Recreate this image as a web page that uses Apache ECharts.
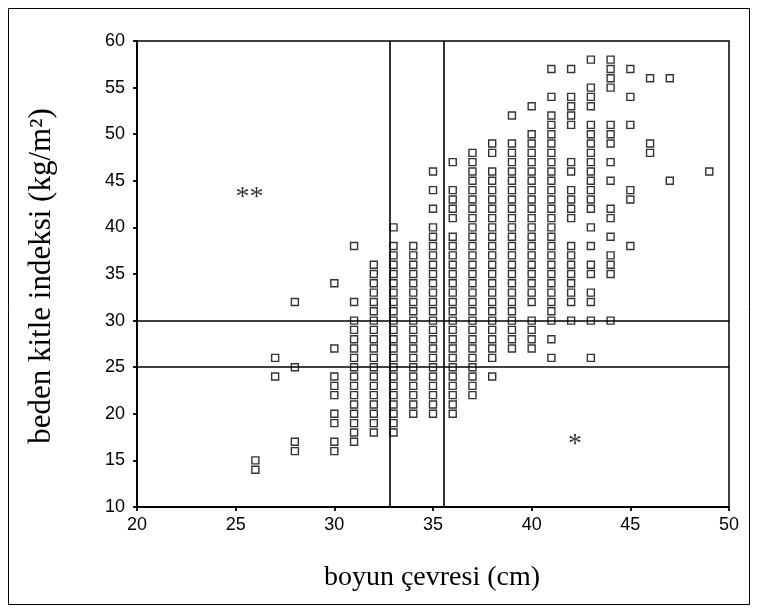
<!DOCTYPE html>
<html><head><meta charset="utf-8">
<script src="https://cdn.jsdelivr.net/npm/echarts@6/dist/echarts.min.js"></script>
<style>html,body{margin:0;padding:0;background:#fff}#c{width:758px;height:612px}</style>
</head><body><div id="c"></div>
<script>
// boyun çevresi (cm) columns and the BMI values read in each column
const neckCm = [26, 27, 28, 30, 31, 32, 33, 34, 35, 36, 37, 38, 39, 40, 41, 42, 43, 44, 45, 46, 47, 49];
const bmi26 = [15, 14];
const bmi27 = [26, 24];
const bmi28 = [32, 25, 17, 16];
const bmi30 = [34, 27, 24, 23, 22, 20, 19, 17, 16];
const bmi31 = [38, 32, 30, 29, 28, 27, 26, 25, 24, 23, 22, 21, 20, 19, 18, 17];
const bmi32 = [36, 35, 34, 33, 32, 31, 30, 29, 28, 27, 26, 25, 24, 23, 22, 21, 20, 19, 18];
const bmi33 = [40, 38, 37, 36, 35, 34, 33, 32, 31, 30, 29, 28, 27, 26, 25, 24, 23, 22, 21, 20, 19, 18];
const bmi34 = [38, 37, 36, 35, 34, 33, 32, 31, 30, 29, 28, 27, 26, 25, 24, 23, 22, 21, 20];
const bmi35 = [46, 44, 42, 40, 39, 38, 37, 36, 35, 34, 33, 32, 31, 30, 29, 28, 27, 26, 25, 24, 23, 22, 21, 20];
const bmi36 = [47, 44, 43, 42, 41, 39, 38, 37, 36, 35, 34, 33, 32, 31, 30, 29, 28, 27, 26, 25, 24, 23, 22, 21, 20];
const bmi37 = [48, 47, 46, 45, 44, 43, 42, 41, 40, 39, 38, 37, 36, 35, 34, 33, 32, 31, 30, 29, 28, 27, 26, 25, 24, 23, 22];
const bmi38 = [49, 48, 46, 45, 44, 43, 42, 41, 40, 39, 38, 37, 36, 35, 34, 33, 32, 31, 30, 29, 28, 27, 26, 24];
const bmi39 = [52, 49, 48, 47, 46, 45, 44, 43, 42, 41, 40, 39, 38, 37, 36, 35, 34, 33, 32, 31, 30, 29, 28, 27];
const bmi40 = [53, 50, 49, 48, 47, 46, 45, 44, 43, 42, 41, 40, 39, 38, 37, 36, 35, 34, 33, 32, 30, 29, 28, 27];
const bmi41 = [57, 54, 52, 51, 50, 49, 48, 47, 46, 45, 44, 43, 42, 41, 40, 39, 38, 37, 36, 35, 34, 33, 32, 31, 30, 28, 26];
const bmi42 = [57, 54, 53, 52, 51, 47, 46, 44, 43, 42, 41, 38, 37, 36, 35, 34, 33, 32, 30];
const bmi43 = [58, 55, 54, 53, 51, 50, 49, 48, 47, 46, 45, 44, 43, 42, 40, 38, 36, 35, 33, 32, 30, 26];
const bmi44 = [58, 57, 56, 55, 51, 50, 49, 47, 45, 42, 41, 39, 37, 36, 35, 30];
const bmi45 = [57, 54, 51, 44, 43, 38];
const bmi46 = [56, 49, 48];
const bmi47 = [56, 45];
const bmi49 = [46];
const bmiColumns = [bmi26, bmi27, bmi28, bmi30, bmi31, bmi32, bmi33, bmi34, bmi35, bmi36, bmi37,
  bmi38, bmi39, bmi40, bmi41, bmi42, bmi43, bmi44, bmi45, bmi46, bmi47, bmi49];

// cut-off lines
const bmiCutoffs = [25, 30];
const neckCutoffs = [32.8, 35.55];

// x / y tick labels
const xTicks = [20, 25, 30, 35, 40, 45, 50];
const yTicks = [10, 15, 20, 25, 30, 35, 40, 45, 50, 55, 60];

// annotation marks (text and data location)
const noteText = ['**', '*'];
const noteNeck = [25.7, 42.2];
const noteBmi = [43.2, 16.7];

const points = [];
neckCm.forEach((x, i) => bmiColumns[i].forEach(y => points.push([x, y])));
const notes = noteText.map((t, i) => ({ value: [noteNeck[i], noteBmi[i]], label: t }));

const chart = echarts.init(document.getElementById('c'), null, { renderer: 'canvas' });
const tickFont = { color: '#000', fontSize: 18, fontFamily: 'Liberation Sans' };
chart.setOption({
  animation: false,
  backgroundColor: '#fff',
  grid: { left: 137, right: 29, top: 41, bottom: 105, show: true, borderColor: '#000', borderWidth: 1.5 },
  xAxis: {
    type: 'value', min: xTicks[0], max: xTicks[xTicks.length - 1], interval: 5,
    axisLine: { show: true, lineStyle: { color: '#000', width: 1.8 } },
    axisTick: { show: true, length: 4, lineStyle: { color: '#000', width: 1.8 } },
    splitLine: { show: false },
    axisLabel: Object.assign({ margin: 9 }, tickFont)
  },
  yAxis: {
    type: 'value', min: yTicks[0], max: yTicks[yTicks.length - 1], interval: 5,
    axisLine: { show: true, lineStyle: { color: '#000', width: 1.8 } },
    axisTick: { show: true, length: 4, lineStyle: { color: '#000', width: 1.8 } },
    splitLine: { show: false },
    axisLabel: Object.assign({ margin: 12 }, tickFont)
  },
  graphic: [
    { type: 'rect', shape: { x: 8.5, y: 8.5, width: 741, height: 596 }, style: { fill: 'none', stroke: '#000', lineWidth: 1 }, silent: true },
    { type: 'text', x: 432, y: 578, style: { text: 'boyun çevresi (cm)', font: '28px "Liberation Serif"', fill: '#000', textAlign: 'center', textVerticalAlign: 'middle' } },
    { type: 'text', x: 42, y: 276, rotation: Math.PI / 2, style: { text: 'beden kitle indeksi (kg/m²)', font: '31px "Liberation Serif"', fill: '#000', textAlign: 'center', textVerticalAlign: 'middle' } }
  ],
  series: [
    {
      type: 'scatter', data: points, symbol: 'rect', symbolSize: 7,
      itemStyle: { color: '#fff', borderColor: '#000', borderWidth: 1.4 },
      markLine: {
        silent: true, symbol: 'none', label: { show: false },
        lineStyle: { color: '#000', width: 1.6, type: 'solid' },
        data: bmiCutoffs.map(v => ({ yAxis: v })).concat(neckCutoffs.map(v => ({ xAxis: v })))
      },
      z: 3
    },
    {
      type: 'scatter', symbolSize: 0, z: 4,
      data: notes.map(n => ({ value: n.value, label: { show: true, formatter: n.label } })),
      label: { show: true, position: 'inside', color: '#000', fontSize: 28, fontFamily: 'Liberation Serif' }
    }
  ]
});
</script></body></html>
